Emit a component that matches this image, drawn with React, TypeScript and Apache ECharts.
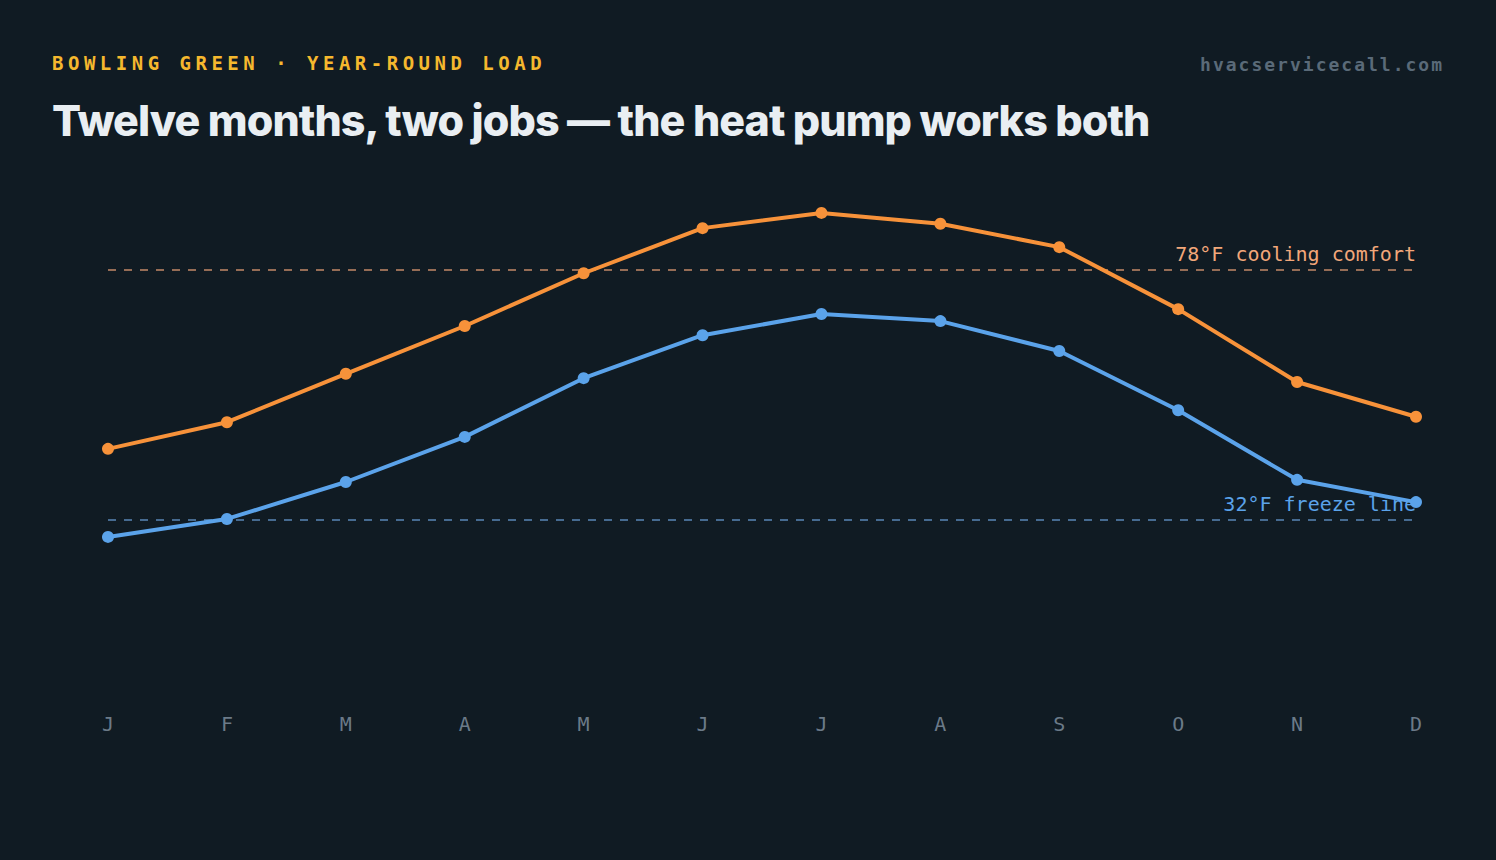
import React, { useEffect, useRef } from "react";
import * as echarts from "echarts";

// monthly average temperatures, Bowling Green (°F)
const months = ["J", "F", "M", "A", "M", "J", "J", "A", "S", "O", "N", "D"];
const highs = [45.1, 50.0, 58.9, 67.7, 77.4, 85.7, 88.5, 86.5, 82.2, 70.8, 57.4, 51.0];
const lows = [28.9, 32.2, 39.0, 47.3, 58.1, 66.0, 69.9, 68.6, 63.1, 52.2, 39.4, 35.3];
const coolingLine = 78;
const freezeLine = 32;

const BG = "#101b23";
const ORANGE = "#f7923a";
const BLUE = "#5ba3ea";
const MONO = "'DejaVu Sans Mono', 'Liberation Mono', monospace";

const App: React.FC = () => {
  const chartRef = useRef<HTMLDivElement>(null);

  useEffect(() => {
    if (!chartRef.current) return;
    const chart = echarts.init(chartRef.current, null, { renderer: "svg" });
    chart.setOption({
      animation: false,
      backgroundColor: "transparent",
      grid: { left: 108, right: 80, top: 150.4, bottom: 166 },
      xAxis: {
        type: "category",
        data: months,
        boundaryGap: false,
        axisLine: { show: false },
        axisTick: { show: false },
        splitLine: { show: false },
        axisLabel: {
          color: "#6b7a88",
          fontFamily: MONO,
          fontSize: 20,
          margin: 20,
        },
      },
      yAxis: {
        type: "value",
        min: 0,
        max: 100,
        show: false,
      },
      series: [
        {
          name: "High",
          type: "line",
          data: highs,
          symbol: "circle",
          symbolSize: 12,
          lineStyle: { color: ORANGE, width: 4 },
          itemStyle: { color: ORANGE },
          z: 3,
          markLine: {
            silent: true,
            symbol: "none",
            z: 1,
            lineStyle: { color: "rgba(240,165,120,0.6)", type: [8, 8], width: 2 },
            label: {
              position: "insideEndTop",
              formatter: "78°F cooling comfort",
              color: "#f2a77a",
              fontFamily: MONO,
              fontSize: 20,
              distance: [0, 6],
            },
            data: [{ yAxis: coolingLine }],
          },
        },
        {
          name: "Low",
          type: "line",
          data: lows,
          symbol: "circle",
          symbolSize: 12,
          lineStyle: { color: BLUE, width: 4 },
          itemStyle: { color: BLUE },
          z: 3,
          markLine: {
            silent: true,
            symbol: "none",
            z: 1,
            lineStyle: { color: "rgba(100,150,205,0.65)", type: [8, 8], width: 2 },
            label: {
              position: "insideEndTop",
              formatter: "32°F freeze line",
              color: BLUE,
              fontFamily: MONO,
              fontSize: 20,
              distance: [0, 6],
            },
            data: [{ yAxis: freezeLine }],
          },
        },
      ],
    });
    return () => chart.dispose();
  }, []);

  return (
    <div
      style={{
        position: "absolute",
        left: 0,
        top: 0,
        width: 1496,
        height: 860,
        background: BG,
        overflow: "hidden",
      }}
    >
      <div
        style={{
          position: "absolute",
          left: 52,
          top: 51,
          fontFamily: MONO,
          fontWeight: 700,
          fontSize: 19,
          letterSpacing: 4.5,
          color: "#f5b82e",
          lineHeight: "24px",
        }}
      >
        BOWLING GREEN · YEAR-ROUND LOAD
      </div>
      <div
        style={{
          position: "absolute",
          right: 52,
          top: 53,
          fontFamily: MONO,
          fontWeight: 700,
          fontSize: 18,
          letterSpacing: 2,
          color: "#5a6a78",
          lineHeight: "24px",
        }}
      >
        hvacservicecall.com
      </div>
      <div
        style={{
          position: "absolute",
          left: 52,
          top: 94,
          fontFamily: "Inter, 'Noto Sans', sans-serif",
          fontWeight: 800,
          fontSize: 43,
          letterSpacing: -0.95,
          color: "#e9eef2",
          lineHeight: "52px",
          whiteSpace: "nowrap",
        }}
      >
        Twelve months, two jobs — the heat pump works both
      </div>
      <div
        ref={chartRef}
        style={{ position: "absolute", left: 0, top: 0, width: 1496, height: 860 }}
      />
    </div>
  );
};

export default App;
